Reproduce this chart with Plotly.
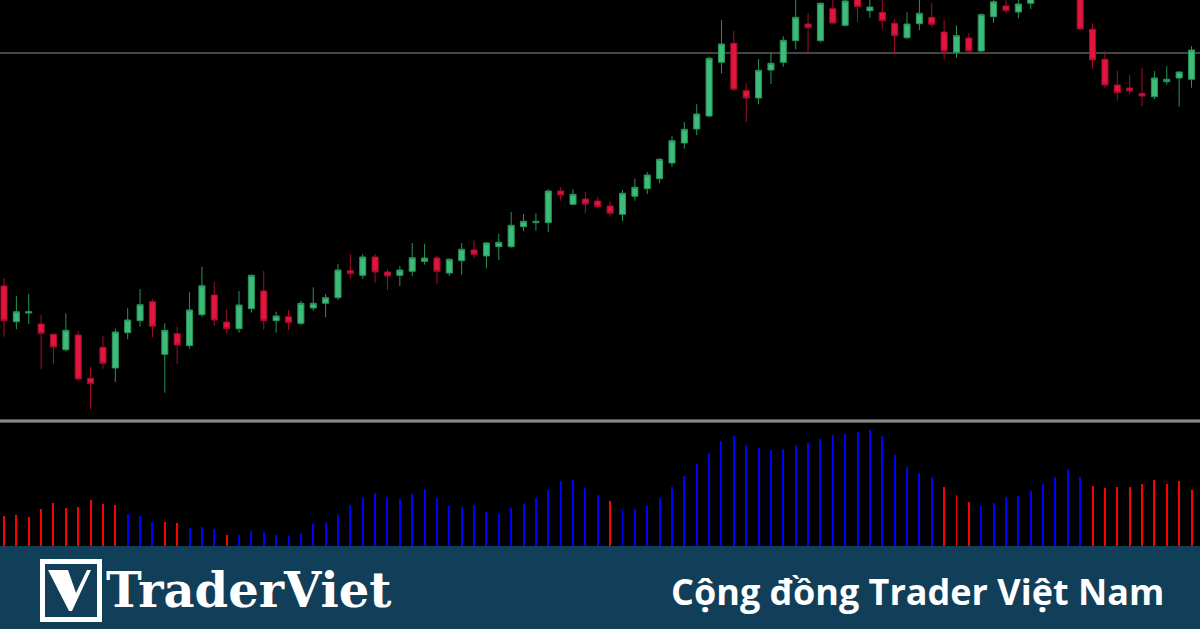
import plotly.graph_objects as go

# ---------------- data ----------------
bar_index = list(range(97))

opens = [214, 178.3, 187, 176, 165.7, 150.3, 165, 121.7, 152.7, 132,
         167.3, 179.3, 198.3, 145.7, 166.3, 154.3, 185.3, 205, 178, 171.3,
         191.3, 209, 179.3, 183.3, 176.7, 192, 196.7, 202.3, 229.3, 224.7,
         243, 228, 224.7, 228.7, 238.7, 242, 227, 239.3, 250, 244,
         253.3, 253.3, 273.3, 277.3, 277.3, 309, 295.7, 301, 299, 294,
         285.7, 303.7, 311.3, 321.3, 337, 357, 371, 384, 437.7, 456.7,
         409.3, 402, 430, 437.7, 459.3, 476, 459.3, 491.3, 474.7, 501,
         489.3, 487.7, 476.7, 462.3, 476.3, 482.7, 468, 447.7, 462, 449,
         483.3, 494, 488, 496.7, 505, 510, 512, 514, 470.7, 440.7,
         415, 412, 406.7, 403.3, 418.3, 422, 420.7]
highs = [221.7, 204, 206, 185, 166.5, 186.7, 169, 133.3, 164, 171.3,
         192, 211, 201, 176.7, 173.3, 207.7, 233.3, 218.3, 191, 209,
         225.5, 229, 188.3, 190, 199.3, 212.7, 206, 236, 246, 246,
         246, 230.7, 234, 257, 256.3, 244, 241.7, 257, 259.3, 258,
         266.3, 288, 286, 286.7, 310.7, 312.7, 310.7, 308, 303.3, 298.7,
         310, 321.3, 328, 342, 364, 378, 395.7, 443.3, 480, 469,
         417, 441, 447.7, 463.7, 505, 486.7, 497.7, 503, 502, 504,
         503, 502, 480.7, 487.7, 501, 497, 480, 474.7, 467, 486.7,
         504, 502, 503, 509, 514, 518, 520, 516, 476.7, 449,
         429, 425, 432, 429, 433.7, 428.5, 454]
lows = [163.3, 170.7, 176, 131, 135.7, 148.3, 119.3, 91, 131.3, 118,
        160.7, 173.3, 162.7, 107.3, 136.3, 151.3, 183.3, 174.3, 166.3, 167.3,
        187.3, 170.3, 167.3, 170, 175, 189.3, 182.7, 200, 221.3, 221.3,
        217.3, 210, 214, 224, 235.3, 216, 224, 225.3, 242, 231.7,
        240, 252.3, 268.7, 269.3, 268, 299.3, 295, 286.7, 291.3, 283.3,
        279, 299.3, 306, 316.7, 333.3, 351.3, 364.7, 382.7, 426.7, 409,
        378, 395.7, 416, 433.3, 450.7, 448.3, 457.7, 476.3, 473.3, 478,
        482.3, 471.3, 445.7, 460.7, 470, 472.3, 440.7, 442.3, 448.5, 448.3,
        477.3, 486.7, 481.7, 491, 502, 506, 508, 470, 431.3, 412.3,
        399.3, 405.7, 394, 401, 415.3, 393.3, 412.3]
closes = [179.3, 188.3, 188.3, 166.7, 153, 169.7, 121, 116.3, 136.7, 168,
          180, 195.3, 173.7, 169.7, 155, 190, 214.3, 180, 171.3, 195,
          224.7, 179.3, 184, 177.3, 196.7, 196.7, 202.3, 230, 226.3, 243,
          228, 224, 230, 242.3, 242, 228.7, 240.7, 250.7, 245.7, 257,
          257.7, 274.7, 278.7, 278.7, 309, 305, 305.7, 296, 293.3, 286.7,
          306.7, 312.7, 325, 340.7, 359.3, 370.7, 386, 441.7, 456, 410.7,
          402, 429.7, 436.7, 459.7, 482.7, 472.3, 496.7, 477, 499, 493.3,
          493, 479.3, 464.3, 476, 486.7, 475.7, 449, 464.3, 449, 485.3,
          498.3, 489.3, 496, 505, 510, 512, 515, 471, 440, 415,
          407.3, 409, 404, 422, 420.7, 428, 450]

ref_level = 447

hist_values = [30, 31, 29, 37, 43, 37.7, 39.3, 46, 41.7, 41,
               32, 30, 24.3, 24, 23.3, 18.3, 19, 17, 11.3, 11.3,
               15.3, 14.3, 11.3, 10, 13.3, 21.7, 23.3, 31, 41, 49.3,
               53, 48.7, 47, 52.3, 57, 47.7, 40, 39.3, 41, 34,
               32, 37.7, 42.3, 47.7, 56, 65.3, 66, 58, 51, 45.3,
               37, 37, 40, 48, 58.7, 70, 81.7, 93.3, 105.3, 110,
               101, 98, 95.7, 97.3, 101, 103.3, 106.7, 111.3, 112, 114.3,
               116, 109.7, 91, 78.7, 73.3, 68.7, 59.3, 51, 44, 40,
               43, 49.3, 50, 55.3, 62.3, 68.7, 77.3, 68.7, 60.3, 58,
               59, 59.3, 62.3, 65.7, 62, 65, 56.3]
hist_red_idx = [0, 1, 2, 3, 4, 5, 6, 7, 8, 9, 13, 14, 18, 49, 76, 77, 78,
                88, 89, 90, 91, 92, 93, 94, 95, 96]

brand_text = "TraderViet"
tagline_text = "Cộng đồng Trader Việt Nam"

# ---------------- geometry helpers ----------------
W, H = 1200, 629


def px(x):
    return x / W


def py(y):
    return (H - y) / H


hist_colors = ["#ff0000" if i in hist_red_idx else "#0000ff" for i in bar_index]

x_lo = -4 / 12.37
x_hi = (W - 4) / 12.37

fig = go.Figure()

fig.add_trace(go.Candlestick(
    x=bar_index, open=opens, high=highs, low=lows, close=closes,
    increasing=dict(fillcolor="#3dbb7a", line=dict(color="#279457", width=1)),
    decreasing=dict(fillcolor="#e0163f", line=dict(color="#a50d2c", width=1)),
    whiskerwidth=0, xaxis="x", yaxis="y", showlegend=False, hoverinfo="skip",
))

fig.add_trace(go.Bar(
    x=bar_index, y=hist_values, marker=dict(color=hist_colors, line=dict(width=0)),
    width=0.16, xaxis="x2", yaxis="y2", showlegend=False, hoverinfo="skip",
))

shapes = []
# reference horizontal line
shapes.append(dict(type="line", xref="paper", yref="y", x0=0, x1=1,
                   y0=ref_level, y1=ref_level, layer="below",
                   line=dict(color="#8a8a8a", width=1)))
# separator between panes
shapes.append(dict(type="rect", xref="paper", yref="paper", x0=0, x1=1,
                   y0=py(422.6), y1=py(419.4), fillcolor="#a8a8a8",
                   line=dict(width=0), layer="above"))
shapes.append(dict(type="line", xref="paper", yref="paper", x0=0, x1=1,
                   y0=py(421), y1=py(421), line=dict(color="#6a6a6a", width=1),
                   layer="above"))
# banner
shapes.append(dict(type="rect", xref="paper", yref="paper", x0=0, x1=1,
                   y0=0, y1=py(546), fillcolor="#113e59", line=dict(width=0),
                   layer="above"))
# logo frame
shapes.append(dict(type="rect", xref="paper", yref="paper",
                   x0=px(42.5), x1=px(99.5), y0=py(619.5), y1=py(561.5),
                   fillcolor="#113e59", line=dict(color="white", width=5),
                   layer="above"))
# logo V
vpts = [(48, 570), (68, 570), (76, 593), (87, 570), (91, 570), (72, 611), (69, 611)]
path = "M " + " L ".join(f"{px(a):.5f},{py(b):.5f}" for a, b in vpts) + " Z"
shapes.append(dict(type="path", xref="paper", yref="paper", path=path,
                   fillcolor="white", line=dict(width=0), layer="above"))

annotations = [
    dict(text=f"<b>{brand_text}</b>", xref="paper", yref="paper",
         x=px(104), y=py(590), xanchor="left", yanchor="middle", showarrow=False,
         font=dict(family="DejaVu Serif", size=48, color="white")),
    dict(text=f"<b>{tagline_text}</b>", xref="paper", yref="paper",
         x=px(1166), y=py(591), xanchor="right", yanchor="middle", showarrow=False,
         font=dict(family="Open Sans", size=36, color="white")),
]

fig.update_layout(
    width=W, height=H, margin=dict(l=0, r=0, t=0, b=0),
    paper_bgcolor="black", plot_bgcolor="black",
    boxgap=0.3, hovermode=False, dragmode=False,
    xaxis=dict(domain=[0, 1], range=[x_lo, x_hi], visible=False,
               rangeslider=dict(visible=False), anchor="y"),
    yaxis=dict(domain=[py(418), 1], range=[82, 500], visible=False, anchor="x"),
    xaxis2=dict(domain=[0, 1], range=[x_lo, x_hi], visible=False, anchor="y2"),
    yaxis2=dict(domain=[py(546), py(423)], range=[0, 123], visible=False, anchor="x2"),
    shapes=shapes, annotations=annotations,
    showlegend=False, bargap=0,
)

fig.write_html(
    "out.html",
    config={"displayModeBar": False, "staticPlot": True},
    post_script="document.body.style.margin='0';document.body.style.background='black';",
)
